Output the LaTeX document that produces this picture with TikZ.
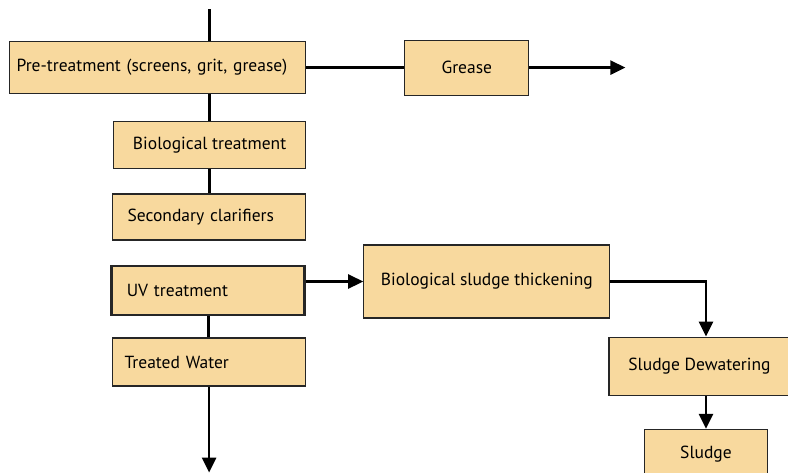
\documentclass[tikz,border=0pt]{standalone}
\usepackage{fontspec}
\setmainfont{PT Sans}
\usetikzlibrary{arrows.meta, positioning}
\definecolor{StageFill}{RGB}{248,217,158}
\tikzstyle{stage} = [rectangle, draw=black!85, line width=1.2pt, fill=StageFill, inner sep=0pt, font=\fontsize{17.5}{20}\selectfont]
\tikzstyle{line} = [line width=2.6pt]
\tikzstyle{arrow} = [line width=2.6pt, -{Triangle[length=15pt,width=14pt]}]

\begin{document}
\begin{tikzpicture}[x=1pt, y=-1pt]
  \useasboundingbox (0,0) rectangle (788,472);
  \node (pre) [stage, anchor=north west, text width=282pt, inner xsep=7pt, minimum height=52pt, align=left] at (9,41) {Pre-treatment (screens, grit, grease)};
  \node (grease) [stage, minimum width=124pt, minimum height=55pt, right=98pt of pre] {Grease};
  \node (bio) [stage, minimum width=192pt, minimum height=47pt, below=27pt of pre.south east, anchor=north east] {Biological treatment};
  \node (sec) [stage, text width=163pt, inner xsep=15pt, minimum height=46pt, align=left, below=24pt of bio.south east, anchor=north east] {Secondary clarifiers};
  \node (uv) [stage, line width=2.8pt, text width=163pt, inner xsep=15pt, minimum height=49pt, align=left, below=24pt of sec.south east, anchor=north east] {UV treatment};
  \node (water) [stage, text width=169pt, inner xsep=12pt, minimum height=48pt, align=left, below=21pt of uv.south east, anchor=north east] {Treated Water};
  \node (thick) [stage, minimum width=246pt, minimum height=73pt, right=57pt of uv.east, yshift=9pt] {Biological sludge thickening};
  \node (dew) [stage, minimum width=181pt, minimum height=58pt, below=18pt of thick.south east, anchor=north west, xshift=-2pt] {Sludge Dewatering};
  \node (sludge) [stage, minimum width=123pt, minimum height=50pt, below=33pt of dew.south, xshift=6.5pt] {Sludge};

  \coordinate [above=112pt of bio.north] (in);
  \coordinate [right=96pt of grease.east] (gout);
  \coordinate [below=86pt of water.south] (out);

  \draw [line] (in) -- (in |- pre.north);
  \draw [line] (pre.east) -- (grease.west);
  \draw [arrow] (grease.east) -- (gout);
  \draw [line] (bio.north |- pre.south) -- (bio.north);
  \draw [line] (bio.south) -- (bio.south |- sec.north);
  \draw [line] (uv.south) -- (uv.south |- water.north);
  \draw [arrow] (water.south) -- (out);
  \draw [arrow] (uv.east |- thick.west) -- (thick.west);
  \draw [arrow] (thick.east) -| (sludge.north |- dew.north);
  \draw [arrow] (sludge.north |- dew.south) -- (sludge.north);

\end{tikzpicture}
\end{document}
